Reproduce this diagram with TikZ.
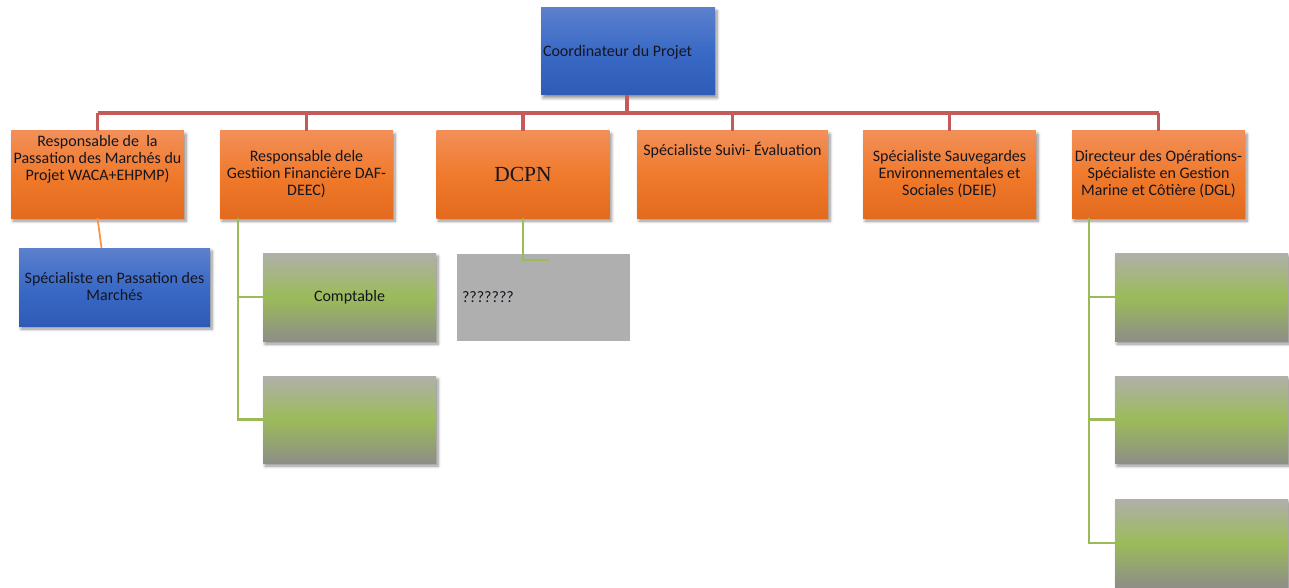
\documentclass[tikz,border=0pt]{standalone}
\usepackage{fontspec}
\setmainfont{Carlito}
\newfontfamily\dcpnfont{Liberation Serif}
\usetikzlibrary{shadows.blur,calc}
\definecolor{oTop}{HTML}{F28F58}
\definecolor{oMid}{HTML}{F07A2C}
\definecolor{oBot}{HTML}{E36A1E}
\definecolor{bTop}{HTML}{5B80CD}
\definecolor{bMid}{HTML}{3A6AC6}
\definecolor{bBot}{HTML}{2E5BB6}
\definecolor{gTop}{HTML}{B0B0A9}
\definecolor{gMid}{HTML}{9BBB59}
\definecolor{gBot}{HTML}{8E8E86}
\definecolor{greyBox}{HTML}{AFAFAF}
\definecolor{redLine}{HTML}{C55A5A}
\definecolor{greenLine}{HTML}{9BBB59}
\definecolor{orangeLine}{HTML}{F79646}
\definecolor{txt}{HTML}{15151F}
\begin{document}
\begin{tikzpicture}[x=1pt,y=-1pt,
  txtfont/.style={font=\fontsize{16}{17}\selectfont, text=txt},
  every node/.style={inner sep=0pt, outer sep=0pt, txtfont},
  shad/.style={blur shadow={shadow xshift=2pt, shadow yshift=-3pt, shadow blur radius=3pt, shadow blur steps=6, shadow opacity=45}},
  orangebox/.style={shad, top color=oTop, bottom color=oBot, middle color=oMid, minimum width=173pt, minimum height=87pt, align=center},
  bluebox/.style={shad, top color=bTop, bottom color=bBot, middle color=bMid, align=center},
  greenbox/.style={shad, top color=gTop, bottom color=gBot, middle color=gMid, minimum width=173pt, minimum height=88pt, align=center},
  redl/.style={draw=redLine, line width=3.2pt},
  greenl/.style={draw=greenLine, line width=2.8pt},
  orangel/.style={draw=orangeLine, line width=1.8pt}
]
\useasboundingbox (0,0) rectangle (1289,588);

% top
\node[bluebox, minimum width=174pt, minimum height=87pt,
  label={[anchor=west, xshift=2pt, yshift=-1pt, txtfont]west:Coordinateur du Projet}] (top) at (628,51.5) {};

% orange row
\node[orangebox, label={[anchor=north, yshift=-4pt, align=center, txtfont]north:Responsable de\ \ la\\Passation des Marchés du\\Projet WACA+EHPMP)}] (o1) at (97.5,174.5) {};
\node[orangebox] (o2) at (306.5,174.5) {Responsable dele\\Gestiion Financière DAF-\\DEEC)};
\node[orangebox, font=\dcpnfont\fontsize{21.5}{24}\selectfont] (o3) at (523,174.5) {DCPN};
\node[orangebox, minimum width=191pt, label={[anchor=north, yshift=-11pt, txtfont]north:Spécialiste Suivi- Évaluation}] (o4) at (732.5,174.5) {};
\node[orangebox] (o5) at (949.5,174.5) {Spécialiste Sauvegardes\\Environnementales et\\Sociales (DEIE)};
\node[orangebox] (o6) at (1158.5,174.5) {Directeur des Opérations-\\Spécialiste en Gestion\\Marine et Côtière (DGL)};

% red bus
\coordinate (bus) at (627,113);
\draw[redl] (top.south -| bus) -- (bus);
\draw[redl] (o1.north |- bus) -- (o6.north |- bus);
\foreach \n in {o1,o2,o3,o4,o5,o6} \draw[redl] (\n.north) -- (\n.north |- bus);

% blue sub box
\node[bluebox, minimum width=191pt, minimum height=78pt] (b2) at (114.5,287) {Spécialiste en Passation des\\Marchés};
\draw[orangel] (o1.south) -- ($(b2.north)+(-13,0)$);

% green boxes under o2
\node[greenbox] (g1) at (349.5,297) {Comptable};
\node[greenbox, minimum height=87pt] (g2) at (349.5,419.5) {};
\draw[greenl] ([xshift=18pt]o2.south west) |- (g1.west);
\draw[greenl] ([xshift=18pt]o2.south west) |- (g2.west);

% grey box under o3
\node[fill=greyBox, minimum width=173pt, minimum height=87pt,
  label={[anchor=west, xshift=5pt, txtfont]west:???????}] (q) at (543.5,297.5) {};
\coordinate (qend) at (549,260);
\draw[greenl] (o3.south) |- (qend);

% right column
\node[greenbox] (r1) at (1201.5,297) {};
\node[greenbox, minimum height=87pt] (r2) at (1201.5,419.5) {};
\node[greenbox] (r3) at (1201.5,543) {};
\draw[greenl] ([xshift=17pt]o6.south west) |- (r1.west);
\draw[greenl] ([xshift=17pt]o6.south west) |- (r2.west);
\draw[greenl] ([xshift=17pt]o6.south west) |- (r3.west);
\end{tikzpicture}
\end{document}
